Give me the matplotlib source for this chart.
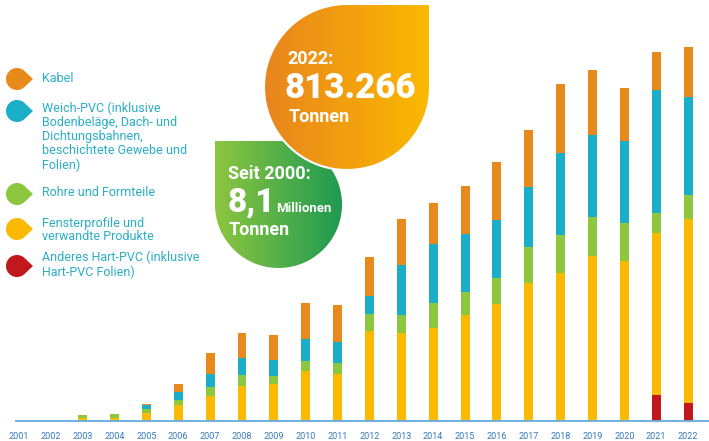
import numpy as np
import matplotlib
matplotlib.use("Agg")
import matplotlib.pyplot as plt
from matplotlib.patches import Polygon

plt.rcParams['font.family'] = ['Roboto', 'DejaVu Sans']

years = list(range(2001, 2023))
hart_andere = [0, 0, 0, 0, 0, 0, 0, 0, 0, 0, 0, 0, 0, 0, 0, 0, 0, 0, 0, 0, 57, 39]
fenster = [0, 0, 6.5, 6.5, 17, 35, 54, 76, 80, 109, 102, 196, 191, 202, 231, 254, 300, 322, 359, 348, 352, 400]
rohre = [0, 0, 6.5, 8.7, 8.7, 11, 20, 24, 17, 22, 24, 37, 39, 54, 50, 57, 78, 83, 85, 83, 43, 52]
weich = [0, 0, 0, 0, 8.7, 17, 28, 37, 35, 48, 46, 39, 109, 128, 126, 126, 131, 178, 178, 178, 268, 213]
kabel = [0, 0, 0, 0, 2.2, 17, 46, 54, 54, 78, 80, 85, 100, 91, 104, 126, 124, 150, 141, 115, 83, 109]

series = [hart_andere, fenster, rohre, weich, kabel]
colors = ['#C1181D', '#FBB900', '#8DC63F', '#1AAEC9', '#E8891C']

legend_labels = [
    'Kabel',
    'Weich-PVC (inklusive\nBodenbeläge, Dach- und\nDichtungsbahnen,\nbeschichtete Gewebe und\nFolien)',
    'Rohre und Formteile',
    'Fensterprofile und\nverwandte Produkte',
    'Anderes Hart-PVC (inklusive\nHart-PVC Folien)',
]
legend_colors = ['#E8891C', '#1AAEC9', '#8DC63F', '#FBB900', '#C1181D']

W, H = 709, 441
fig = plt.figure(figsize=(W / 100, H / 100), dpi=100)

# bar axes: baseline 20 px above the bottom edge
px_year = 31.86
kt_px = 2.175
ax = fig.add_axes([0, 20 / H, 1, 421 / H])
ax.set_xlim(2001 - 19 / px_year, 2001 + (W - 19) / px_year)
ax.set_ylim(0, 421 * kt_px)

bottom = np.zeros(len(years))
for vals, col in zip(series, colors):
    ax.bar(years, vals, width=0.28, bottom=bottom, color=col, linewidth=0)
    bottom += np.array(vals)

ax.hlines(0, 2001 - 4 / px_year, ax.get_xlim()[1], color='#6FB0E0', lw=1.4, clip_on=False)
ax.set_xticks(years)
ax.set_xticklabels([str(y) for y in years])
ax.tick_params(axis='x', length=0, pad=8, labelsize=6.5, labelcolor='#3579BC')
ax.set_yticks([])
for s in ax.spines.values():
    s.set_visible(False)

# overlay in pixel coordinates for legend and bubbles
ov = fig.add_axes([0, 0, 1, 1])
ov.set_xlim(0, W)
ov.set_ylim(H, 0)
ov.axis('off')


def drop(cx, cy, r, col):
    d = 1.45 * r
    th = np.arccos(r / d)
    t = np.linspace(th, 2 * np.pi - th, 60)
    pts = np.column_stack([cx + r * np.cos(t), cy + r * np.sin(t)])
    pts = np.vstack([pts, [cx + d, cy]])
    ov.add_patch(Polygon(pts, closed=True, color=col, lw=0))


marker_y = [79, 111, 194, 229, 266]
text_y = [78, 137, 193, 230, 265]
for lab, col, my, ty in zip(legend_labels, legend_colors, marker_y, text_y):
    drop(17, my, 11, col)
    ov.text(42, ty, lab, color='#29AEC6', fontsize=9, va='center', ha='left',
            linespacing=1.1)


def bubble(cx, cy, r, corner, c1, c2, edge=None):
    if corner == 'tr':
        t = np.linspace(0, 1.5 * np.pi, 120)
        pts = np.column_stack([cx + r * np.cos(t), cy + r * np.sin(t)])
        pts = np.vstack([pts, [cx + r, cy - r]])
    else:
        t = np.linspace(-0.5 * np.pi, np.pi, 120)
        pts = np.column_stack([cx + r * np.cos(t), cy + r * np.sin(t)])
        pts = np.vstack([pts, [cx - r, cy - r]])
    poly = Polygon(pts, closed=True, facecolor='none',
                   edgecolor=edge if edge else 'none', lw=1.5)
    ov.add_patch(poly)
    cmap = matplotlib.colors.LinearSegmentedColormap.from_list('g', [c1, c2])
    grad = np.linspace(0, 1, 256).reshape(1, -1)
    im = ov.imshow(grad, cmap=cmap, extent=(cx - r, cx + r, cy + r, cy - r),
                   aspect='auto', zorder=poly.get_zorder() - 0.1)
    im.set_clip_path(poly)
    ov.set_xlim(0, W)
    ov.set_ylim(H, 0)


# green bubble first, orange on top
bubble(278.5, 204.5, 63.5, 'tl', '#8DC63F', '#1E9A52')
bubble(347, 87, 83, 'tr', '#E8851E', '#FBB900', edge='white')

white = 'white'
ov.text(287, 59, '2022:', color=white, fontsize=13, fontweight='bold', va='center')
ov.text(285, 88, '813.266', color=white, fontsize=25, fontweight='black', va='center')
ov.text(289, 117, 'Tonnen', color=white, fontsize=13, fontweight='bold', va='center')

ov.text(228, 174, 'Seit 2000:', color=white, fontsize=13, fontweight='bold', va='center')
ov.text(228, 202, '8,1', color=white, fontsize=24, fontweight='black', va='center')
ov.text(276, 208, 'Millionen', color=white, fontsize=9.5, fontweight='bold', va='center')
ov.text(229, 230, 'Tonnen', color=white, fontsize=13, fontweight='bold', va='center')

fig.savefig('out.png', dpi=100)
